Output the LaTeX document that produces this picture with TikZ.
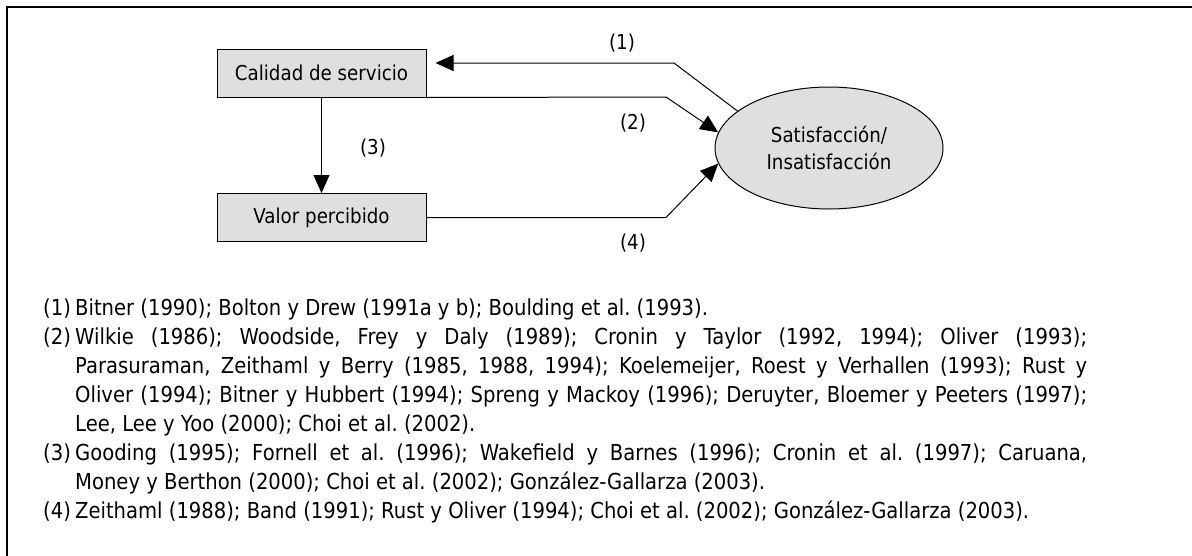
\documentclass[tikz,border=0pt]{standalone}
\usepackage{fontspec}
\setmainfont{DejaVu Sans}[FakeStretch=0.89]
\usetikzlibrary{calc}
\usetikzlibrary{positioning}
\usetikzlibrary{shapes.geometric}
\usetikzlibrary{arrows.meta}
\newcommand*{\boxw }{209pt}
\newcommand*{\boxh }{48pt}
\newcommand*{\hang }{32pt}
\newcommand*{\refnum}[1]{\hangindent=\hang\hangafter=1\noindent\makebox[\hang][l]{#1}}
\frenchspacing
\tikzset{
    caja/.style   = {draw, fill=gray!25, line width=1pt, minimum width=\boxw, minimum height=\boxh},
    flecha/.style = {line width=1pt, -{Triangle[length=18pt,width=16pt]}},
    etiq/.style   = {inner sep=0pt},
}

\begin{document}
\begin{tikzpicture}[x=1pt, y=-1pt, font=\fontsize{20.5}{29}\selectfont]
    \useasboundingbox (0,0) rectangle (1192,555);
    \clip (0,0) rectangle (1192,555);
    \draw [line width=1.6pt] (7,7) rectangle (1210,575);
        \node [caja] (calidad) at (321.5,73)  {Calidad de servicio};
        \node [caja] (valor)   at (321.5,217.5) {Valor percibido};
        \node [ellipse, draw, fill=gray!25, line width=1pt, minimum width=228pt, minimum height=122pt,
               align=center, font=\fontsize{20.5}{27}\selectfont] (satis) at (829,148) {Satisfacción/\\Insatisfacción};
        \coordinate (k1) at (674,63);
        \coordinate (k2) at (666,97);
        \coordinate (k4) at (666,217.5);
        \draw [flecha] (satis.158) -- (k1) -- ($(calidad.east |- k1)+(9,0)$);
        \draw [flecha] (calidad.south east) -- (k2) -- (satis.172);
        \draw [flecha] (valor.east) -- (k4) -- (satis.188);
        \draw [flecha] (calidad) -- (valor);
        \node [etiq] (e1) at (622,43)  {(1)};
        \node [etiq] (e2) at (633,123) {(2)};
        \node [etiq] (e3) at (373,148) {(3)};
        \node [etiq] (e4) at (633,243) {(4)};
        %\draw [red] (43,290) -- (1087,290);
        \node [etiq, anchor=north west, text width=1044pt, align=justify,
               font=\fontsize{22}{29}\selectfont] (lista) at (43,299) {%
            \refnum{(1)}Bitner (1990); Bolton y Drew (1991a y b); Boulding et al. (1993).\par
            \refnum{(2)}Wilkie (1986); Woodside, Frey y Daly (1989); Cronin y Taylor (1992, 1994); Oliver (1993);\linebreak
            Parasuraman, Zeithaml y Berry (1985, 1988, 1994); Koelemeijer, Roest y Verhallen (1993); Rust y\linebreak
            Oliver (1994); Bitner y Hubbert (1994); Spreng y Mackoy (1996); Deruyter, Bloemer y Peeters (1997);\linebreak
            Lee, Lee y Yoo (2000); Choi et al. (2002).\par
            \refnum{(3)}Gooding (1995); Fornell et al. (1996); Wakefield y Barnes (1996); Cronin et al. (1997); Caruana,\linebreak
            Money y Berthon (2000); Choi et al. (2002); González-Gallarza (2003).\par
            \refnum{(4)}Zeithaml (1988); Band (1991); Rust y Oliver (1994); Choi et al. (2002); González-Gallarza (2003).\par};
    \end{tikzpicture}
\end{document}
